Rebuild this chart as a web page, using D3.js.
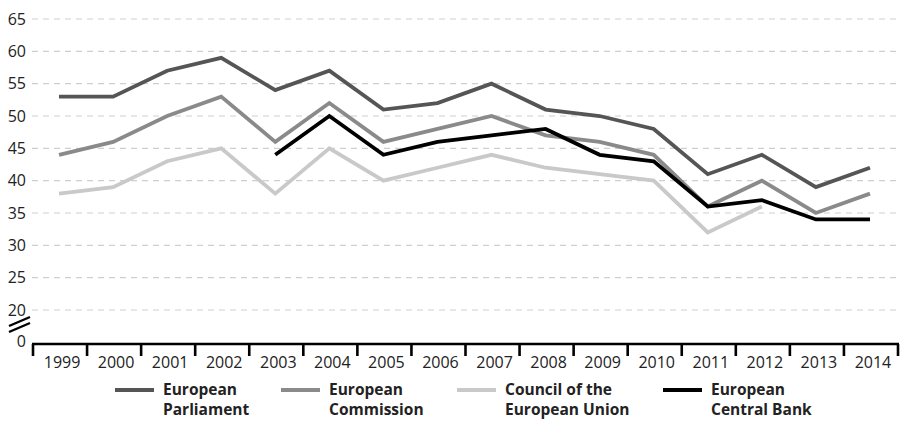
<!DOCTYPE html>
<html>
<head>
<meta charset="utf-8">
<script src="https://cdn.jsdelivr.net/npm/d3@7"></script>
<style>
  body { margin: 0; background: #fff; }
  svg text { font-family: "Open Sans", sans-serif; fill: #222; }
</style>
</head>
<body>
<svg id="chart" width="902" height="421"></svg>
<script>
// values
var years = ['1999','2000','2001','2002','2003','2004','2005','2006','2007','2008','2009','2010','2011','2012','2013','2014'];
var parliament = [53, 53, 57, 59, 54, 57, 51, 52, 55, 51, 50, 48, 41, 44, 39, 42];
var commission = [44, 46, 50, 53, 46, 52, 46, 48, 50, 47, 46, 44, 36, 40, 35, 38];
var council    = [38, 39, 43, 45, 38, 45, 40, 42, 44, 42, 41, 40, 32, 36, null, null];
var centralBank = [null, null, null, null, 44, 50, 44, 46, 47, 48, 44, 43, 36, 37, 34, 34];
var yTicks = [20, 25, 30, 35, 40, 45, 50, 55, 60, 65];

var seriesNames = [['European', 'Parliament'], ['European', 'Commission'], ['Council of the', 'European Union'], ['European', 'Central Bank']];
var seriesValues = [parliament, commission, council, centralBank];
var seriesColors = ['#555555', '#8a8a8a', '#c9c9c9', '#000000'];

var svg = d3.select('#chart');
var baseY = 344;

var x = d3.scaleBand().domain(years).range([33, 898]);
var y = d3.scaleLinear().domain([20, 65]).range([310, 19]);

// gridlines
svg.append('g').selectAll('line').data(yTicks).enter().append('line')
    .attr('x1', 32).attr('x2', 896)
    .attr('y1', function(d) { return y(d); })
    .attr('y2', function(d) { return y(d); })
    .attr('stroke', '#cfcfcf').attr('stroke-width', 1.2)
    .attr('stroke-dasharray', '6,5');

// y labels
svg.append('g').selectAll('text').data(yTicks.concat([0])).enter().append('text')
    .attr('x', 26)
    .attr('y', function(d) { return d === 0 ? baseY - 3 : y(d); })
    .attr('dy', '0.35em')
    .attr('text-anchor', 'end')
    .attr('font-size', 16)
    .text(function(d) { return d; });

// axis break marks
svg.append('g').selectAll('line').data([0, 6]).enter().append('line')
    .attr('x1', 9).attr('x2', 30)
    .attr('y1', function(d) { return 326 + d; })
    .attr('y2', function(d) { return 317 + d; })
    .attr('stroke', '#000').attr('stroke-width', 2.4);

// x axis
var xAxis = svg.append('g');
xAxis.append('line')
    .attr('x1', 32).attr('x2', 899)
    .attr('y1', baseY).attr('y2', baseY)
    .attr('stroke', '#000').attr('stroke-width', 2.6);
xAxis.selectAll('.tick').data(years.concat(['end'])).enter().append('line')
    .attr('x1', function(d, i) { return i < years.length ? x(d) : x.range()[1]; })
    .attr('x2', function(d, i) { return i < years.length ? x(d) : x.range()[1]; })
    .attr('y1', baseY).attr('y2', baseY + 12)
    .attr('stroke', '#000').attr('stroke-width', 2.6);
xAxis.selectAll('text').data(years).enter().append('text')
    .attr('x', function(d) { return x(d) + x.bandwidth() / 2 + 2; })
    .attr('y', baseY + 18)
    .attr('dy', '0.35em')
    .attr('text-anchor', 'middle')
    .attr('font-size', 16)
    .text(function(d) { return d; });

// lines, council first so darker ones lie on top
var line = d3.line()
    .defined(function(d) { return d !== null; })
    .x(function(d, i) { return x(years[i]) + x.bandwidth() / 2 - 1; })
    .y(function(d) { return y(d); });

[2, 1, 0, 3].forEach(function(k) {
    svg.append('path')
        .datum(seriesValues[k])
        .attr('d', line)
        .attr('fill', 'none')
        .attr('stroke', seriesColors[k])
        .attr('stroke-width', 3.8)
        .attr('stroke-linejoin', 'miter');
});

// legend
var legendX = [115, 281, 457, 663];
var legend = svg.append('g').selectAll('g').data(seriesNames).enter().append('g')
    .attr('transform', function(d, i) { return 'translate(' + legendX[i] + ',390)'; });
legend.append('line')
    .attr('x1', 0).attr('x2', 39)
    .attr('stroke', function(d, i) { return seriesColors[i]; })
    .attr('stroke-width', 4);
legend.append('text')
    .attr('x', 48).attr('y', 0).attr('dy', '0.35em')
    .attr('font-size', 15.5).attr('font-weight', 'bold')
    .text(function(d) { return d[0]; });
legend.append('text')
    .attr('x', 48).attr('y', 20).attr('dy', '0.35em')
    .attr('font-size', 15.5).attr('font-weight', 'bold')
    .text(function(d) { return d[1]; });
</script>
</body>
</html>
